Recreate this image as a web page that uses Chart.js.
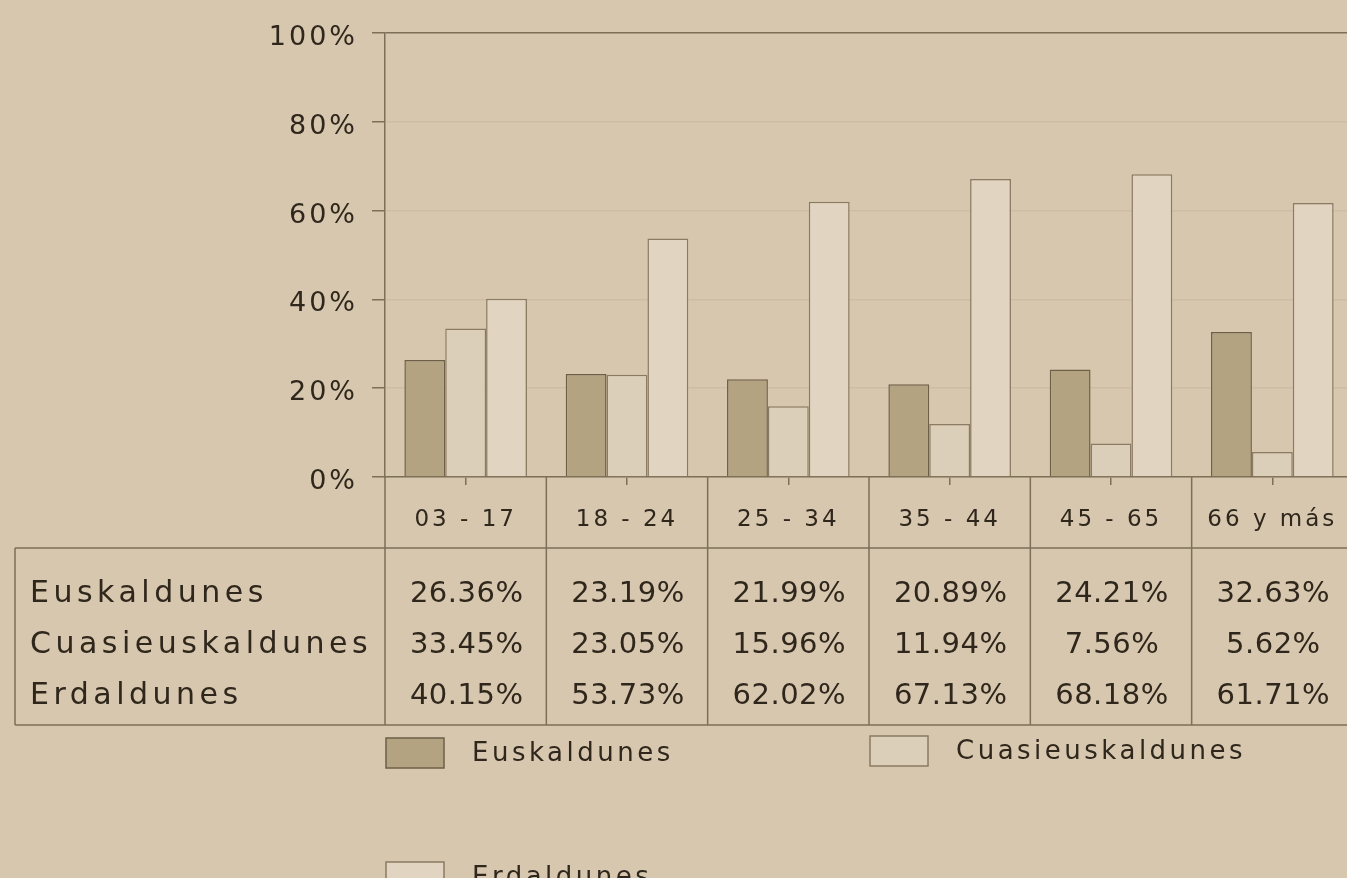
<!DOCTYPE html>
<html>
<head>
<meta charset="utf-8">
<script src="https://cdn.jsdelivr.net/npm/chart.js"></script>
<style>
  html, body { margin: 0; padding: 0; overflow: hidden; background: #d7c7af; }
  canvas { display: block; }
</style>
</head>
<body>
<canvas id="myChart" width="1400" height="878"></canvas>
<script>
  const categories = ['03 - 17', '18 - 24', '25 - 34', '35 - 44', '45 - 65', '66 y más'];
  const euskaldunes = [26.36, 23.19, 21.99, 20.89, 24.21, 32.63];
  const cuasieuskaldunes = [33.45, 23.05, 15.96, 11.94, 7.56, 5.62];
  const erdaldunes = [40.15, 53.73, 62.02, 67.13, 68.18, 61.71];
  const yTicks = [0, 20, 40, 60, 80, 100];

  const ink = '#30271c';
  const lineCol = '#7d6f58';
  const bg = '#d7c7af';

  // table + legend under the plot
  const tablePlugin = {
    id: 'tablePlugin',
    beforeDraw(chart) {
      const c = chart.ctx;
      c.save();
      c.fillStyle = bg;
      c.fillRect(0, 0, chart.width, chart.height);
      c.restore();
      c.letterSpacing = '3px';
    },
    afterDraw(chart) {
      const c = chart.ctx;
      const x = chart.scales.x;
      const area = chart.chartArea;
      const step = (area.right - area.left) / categories.length;
      const tableTop = 548, tableBottom = 725;
      c.save();
      c.strokeStyle = lineCol;
      c.lineWidth = 1.5;
      c.beginPath();
      for (let i = 0; i <= categories.length; i++) {
        const px = area.left + i * step;
        c.moveTo(px, area.bottom);
        c.lineTo(px, tableBottom);
      }
      c.moveTo(15, tableTop); c.lineTo(chart.width, tableTop);
      c.moveTo(15, tableBottom); c.lineTo(chart.width, tableBottom);
      c.moveTo(15, tableTop); c.lineTo(15, tableBottom);
      c.stroke();

      const rows = chart.data.datasets;
      const rowY = [594, 645, 696];
      c.fillStyle = ink;
      c.textBaseline = 'middle';
      rows.forEach((ds, r) => {
        c.letterSpacing = '4.5px';
        c.textAlign = 'left';
        c.font = '30px "DejaVu Sans"';
        c.fillText(ds.label, 30, rowY[r]);
        c.letterSpacing = '0.5px';
        c.textAlign = 'center';
        c.font = '29px "DejaVu Sans"';
        ds.data.forEach((v, i) => {
          c.fillText(v.toFixed(2) + '%', x.getPixelForValue(i) + 1, rowY[r]);
        });
      });

      // legend
      const leg = [[386, 738], [870, 736], [386, 862]];
      c.font = '26px "DejaVu Sans"';
      c.letterSpacing = '3.5px';
      c.textAlign = 'left';
      rows.forEach((ds, r) => {
        const [lx, ly] = leg[r];
        c.fillStyle = ds.backgroundColor;
        c.fillRect(lx, ly, 58, 30);
        c.strokeStyle = ds.borderColor;
        c.lineWidth = 1.5;
        c.strokeRect(lx, ly, 58, 30);
        c.fillStyle = ink;
        c.fillText(ds.label, lx + 86, ly + 16);
      });
      c.restore();
    }
  };

  new Chart(document.getElementById('myChart'), {
    type: 'bar',
    data: {
      labels: categories,
      datasets: [
        { label: 'Euskaldunes', data: euskaldunes, backgroundColor: '#b3a381', borderColor: '#6e6048', borderWidth: 1.5 },
        { label: 'Cuasieuskaldunes', data: cuasieuskaldunes, backgroundColor: '#dccfba', borderColor: '#8a7b62', borderWidth: 1.5 },
        { label: 'Erdaldunes', data: erdaldunes, backgroundColor: '#e1d5c2', borderColor: '#8a7b62', borderWidth: 1.5 }
      ]
    },
    options: {
      responsive: false,
      animation: false,
      layout: { padding: { left: 0, top: 33, right: 47, bottom: 330 } },
      categoryPercentage: 0.76,
      barPercentage: 1.0,
      plugins: { legend: { display: false }, tooltip: { enabled: false } },
      scales: {
        x: {
          afterFit(s) { s.height = 71; },
          grid: { offset: false, drawOnChartArea: false, tickLength: 8, tickColor: lineCol, lineWidth: 1.5 },
          border: { color: lineCol, width: 1.5 },
          ticks: { color: ink, font: { family: 'DejaVu Sans', size: 23 }, padding: 21 }
        },
        y: {
          min: 0, max: 100,
          afterFit(s) { s.width = 385; },
          afterBuildTicks(s) { s.ticks = yTicks.map(v => ({ value: v })); },
          grid: {
            color: ctx => (ctx.tick && ctx.tick.value === 100) ? lineCol : '#cdbda4',
            lineWidth: 1.5, tickLength: 13, tickColor: lineCol
          },
          border: { color: lineCol, width: 1.5 },
          ticks: { color: ink, font: { family: 'DejaVu Sans', size: 27 }, padding: 14, labelOffset: 5, callback: v => v + '%' }
        }
      }
    },
    plugins: [tablePlugin]
  });
</script>
</body>
</html>
